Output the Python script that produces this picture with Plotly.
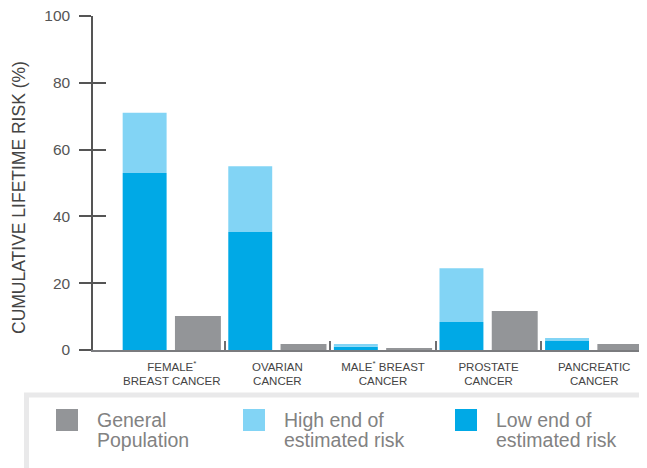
import plotly.graph_objects as go

categories = ["FEMALE<sup>*</sup><br>BREAST CANCER", "OVARIAN<br>CANCER",
              "MALE<sup>*</sup> BREAST<br>CANCER", "PROSTATE<br>CANCER",
              "PANCREATIC<br>CANCER"]
low_end = [53, 35.3, 1.0, 8.4, 2.7]
high_end = [71, 55, 1.8, 24.5, 3.6]
general_pop = [10.2, 1.8, 0.5, 11.7, 1.8]
y_ticks = [0, 20, 40, 60, 80, 100]
y_title = "CUMULATIVE LIFETIME RISK (%)"
legend_lines = [["General", "Population"], ["High end of", "estimated risk"],
                ["Low end of", "estimated risk"]]

C_GRAY = "#939598"
C_LIGHT = "#82D4F5"
C_BLUE = "#00A9E6"

pos = list(range(len(categories)))
fig = go.Figure()
fig.add_trace(go.Bar(x=pos, y=low_end, offset=-0.465, width=0.416,
                     marker=dict(color=C_BLUE, line_width=0), showlegend=False))
fig.add_trace(go.Bar(x=pos, y=[h - l for h, l in zip(high_end, low_end)], base=low_end,
                     offset=-0.465, width=0.416,
                     marker=dict(color=C_LIGHT, line_width=0), showlegend=False))
fig.add_trace(go.Bar(x=pos, y=general_pop, offset=0.03, width=0.435,
                     marker=dict(color=C_GRAY, line_width=0), showlegend=False))
# invisible trace for overlay axis
fig.add_trace(go.Scatter(x=pos, y=[0]*5, xaxis="x2", yaxis="y2", mode="markers",
                         marker=dict(opacity=0), hoverinfo="skip", showlegend=False))

xr = [-0.746, 4.5]
boundaries = [i + 0.5 for i in pos[:-1]]
fig.update_layout(
    width=639, height=460,
    margin=dict(l=85, r=0, t=8, b=118),
    paper_bgcolor="white", plot_bgcolor="white",
    barmode="overlay",
    font=dict(family="Liberation Sans, Arial, sans-serif", color="#444"),
    xaxis=dict(range=xr, tickvals=boundaries, ticktext=[""]*4, ticks="inside",
               ticklen=9, tickwidth=2, tickcolor="#6d6e71", showgrid=False,
               showline=True, linecolor="#7a7b7e", linewidth=2, zeroline=False),
    xaxis2=dict(range=xr, overlaying="x", tickvals=pos, ticktext=categories,
                ticks="", showgrid=False, showline=False, zeroline=False,
                tickfont=dict(size=11.5, color="#444"), side="bottom", ticklabelstandoff=8),
    yaxis=dict(range=[0, 100], tickvals=y_ticks, ticks="outside", ticklen=12,
               tickwidth=1.5, tickcolor="#555", showgrid=False, showline=True,
               linecolor="#555", linewidth=1.5, zeroline=False,
               tickfont=dict(size=15.5, color="#555"), ticklabelstandoff=6,
               ticklabeloverflow="allow"),
    yaxis2=dict(range=[0, 100], overlaying="y", tickvals=y_ticks, ticks="inside",
                ticklen=13, tickwidth=1.5, tickcolor="#555", showticklabels=False,
                showgrid=False, showline=False, zeroline=False),
)

# y-axis title
fig.add_annotation(xref="paper", yref="paper", x=(19 - 93) / 554, y=(350 - 198) / 334,
                   xanchor="center", yanchor="middle", textangle=-90, showarrow=False,
                   text=y_title, font=dict(size=17.5, color="#444"))

# legend box
fig.add_shape(type="rect", xref="paper", yref="paper",
              x0=(26.5 - 93) / 554, x1=1.03, y0=-140 / 334, y1=-(395 - 350) / 334,
              line=dict(color="#e9e9ea", width=5), fillcolor="rgba(0,0,0,0)", layer="above")

leg_colors = [C_GRAY, C_LIGHT, C_BLUE]
sw_x = [56, 243, 455]
for lines, col, sx in zip(legend_lines, leg_colors, sw_x):
    fig.add_shape(type="rect", xref="paper", yref="paper",
                  x0=(sx - 93) / 554, x1=(sx + 22 - 93) / 554,
                  y0=-(431 - 350) / 334, y1=-(409 - 350) / 334,
                  line_width=0, fillcolor=col)
    for k, line in enumerate(lines):
        fig.add_annotation(xref="paper", yref="paper", x=(sx + 39 - 93) / 554,
                           y=-(420 + 20 * k - 350) / 334, xanchor="left", yanchor="middle",
                           text=line, showarrow=False, align="left",
                           font=dict(size=19.5, color="#828282",
                                     family="Liberation Sans, Arial, sans-serif"))

fig.write_html("out.html")
